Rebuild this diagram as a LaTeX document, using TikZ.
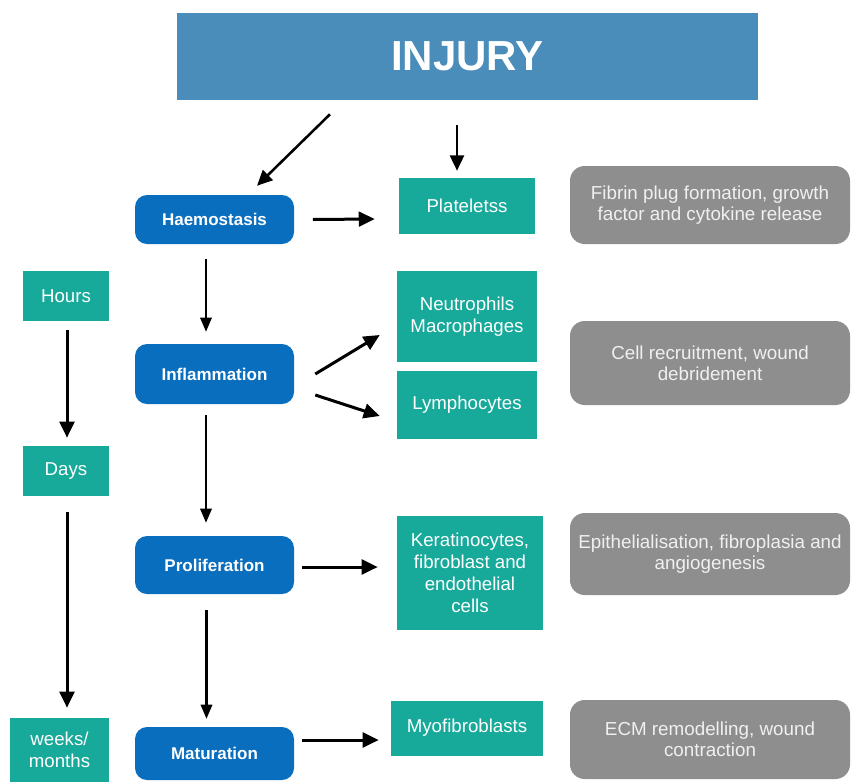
\documentclass[tikz,border=0pt]{standalone}
\usepackage{fontspec}
\setmainfont{Liberation Sans}
\usetikzlibrary{arrows.meta,calc}
\definecolor{injblue}{HTML}{4A8DBA}
\definecolor{phase}{HTML}{0A6EBE}
\definecolor{cellc}{HTML}{17A99A}
\definecolor{descg}{HTML}{8E8E8E}
\begin{document}
\begin{tikzpicture}[x=0.75pt,y=-0.75pt,
  sz/.style 2 args={minimum width=#1*0.75pt, minimum height=#2*0.75pt},
  injbox/.style={fill=injblue, text=white, inner sep=0pt, font=\bfseries\fontsize{31.5}{36}\selectfont},
  phasebox/.style={fill=phase, rounded corners=9pt, text=white, inner sep=0pt, align=center, font=\bfseries\fontsize{12.75}{15}\selectfont},
  cellbox/.style={fill=cellc, text=white, inner sep=0pt, align=center, font=\fontsize{14}{16.5}\selectfont},
  descbox/.style={fill=descg, rounded corners=11pt, text=white!94!black, inner sep=0pt, align=center, font=\fontsize{14.1}{15.5}\selectfont},
  thickarrow/.style={line width=2.25pt, -{Triangle[length=12pt,width=11pt]}},
  midarrow/.style={line width=1.9pt, -{Triangle[length=11.5pt,width=10.5pt]}},
  thinarrow/.style={line width=1.6pt, -{Triangle[length=10.5pt,width=8.5pt]}},
]
\useasboundingbox (0,0) rectangle (852,782);
\fill[white] (0,0) rectangle (852,782);
\clip (0,0) rectangle (852,782);

\node[injbox, sz={581}{87}] (injury) at (467.5,56.5) {INJURY};

\node[phasebox, sz={159}{49}] (haem) at (214.5,219.5) {Haemostasis};
\node[phasebox, sz={159}{60}] (infl) at (214.5,374) {Inflammation};
\node[phasebox, sz={159}{58}] (prolif) at (214.5,565) {Proliferation};
\node[phasebox, sz={159}{53}] (mat) at (214.5,753.5) {Maturation};

\node[cellbox, sz={136}{56}] (plat) at (467,206) {Plateletss};
\node[cellbox, sz={140}{91}] (neut) at (467,316.5) {Neutrophils\\Macrophages};
\node[cellbox, sz={140}{68}] (lymph) at (467,405) {Lymphocytes};
\node[cellbox, sz={146}{114}] (kerat) at (470,573) {Keratinocytes,\\fibroblast and\\endothelial\\cells};
\node[cellbox, sz={152}{55}] (myo) at (467,728) {Myofibroblasts};

\node[cellbox, sz={86}{50}] (hours) at (66,296) {Hours};
\node[cellbox, sz={86}{50}] (days) at (66,471) {Days};
\node[cellbox, sz={99}{64}] (weeks) at (59.5,750) {weeks/\\months};

\node[descbox, sz={280}{78}] (d1) at (710,205) {Fibrin plug formation, growth\\factor and cytokine release};
\node[descbox, sz={280}{84}] (d2) at (710,363) {Cell recruitment, wound\\debridement};
\node[descbox, sz={280}{82}] (d3) at (710,554) {Epithelialisation, fibroplasia and\\angiogenesis};
\node[descbox, sz={280}{79}] (d4) at (710,739.5) {ECM remodelling, wound\\contraction};

% arrows from injury
\draw[midarrow] ($(injury.south)+(-137.5,14)$) -- ($(haem.north)+(42.5,-9)$);
\draw[midarrow] ($(injury.south)+(-10.5,25)$) -- ($(plat.north)+(-10,-7)$);

% phase to cells
\draw[thickarrow] ($(haem.east)+(18.5,0)$) -- ($(plat.west)+(-24,13)$);
\draw[thickarrow] ($(infl.east)+(21,0)$) -- ($(neut.west)+(-17,18.5)$);
\draw[thickarrow] ($(infl.east)+(21,21)$) -- ($(lymph.west)+(-17,11)$);
\draw[thickarrow] ($(prolif.east)+(8,2)$) -- ($(kerat.west)+(-19,-6)$);
\draw[thickarrow] ($(mat.east)+(8,-13.5)$) -- ($(myo.west)+(-12,12)$);

% phase to phase
\draw[thinarrow] ($(haem.south)+(-8.5,15)$) -- ($(infl.north)+(-8.5,-12)$);
\draw[thinarrow] ($(infl.south)+(-8.5,11)$) -- ($(prolif.north)+(-8.5,-13)$);
\draw[thinarrow] ($(prolif.south)+(-8,16)$) -- ($(mat.north)+(-8,-8)$);

% time line
\draw[thickarrow] ($(hours.south)+(1,9)$) -- ($(days.north)+(1,-8)$);
\draw[thickarrow] ($(days.south)+(1,16)$) -- ($(weeks.north)+(7.5,-10)$);
\end{tikzpicture}
\end{document}
